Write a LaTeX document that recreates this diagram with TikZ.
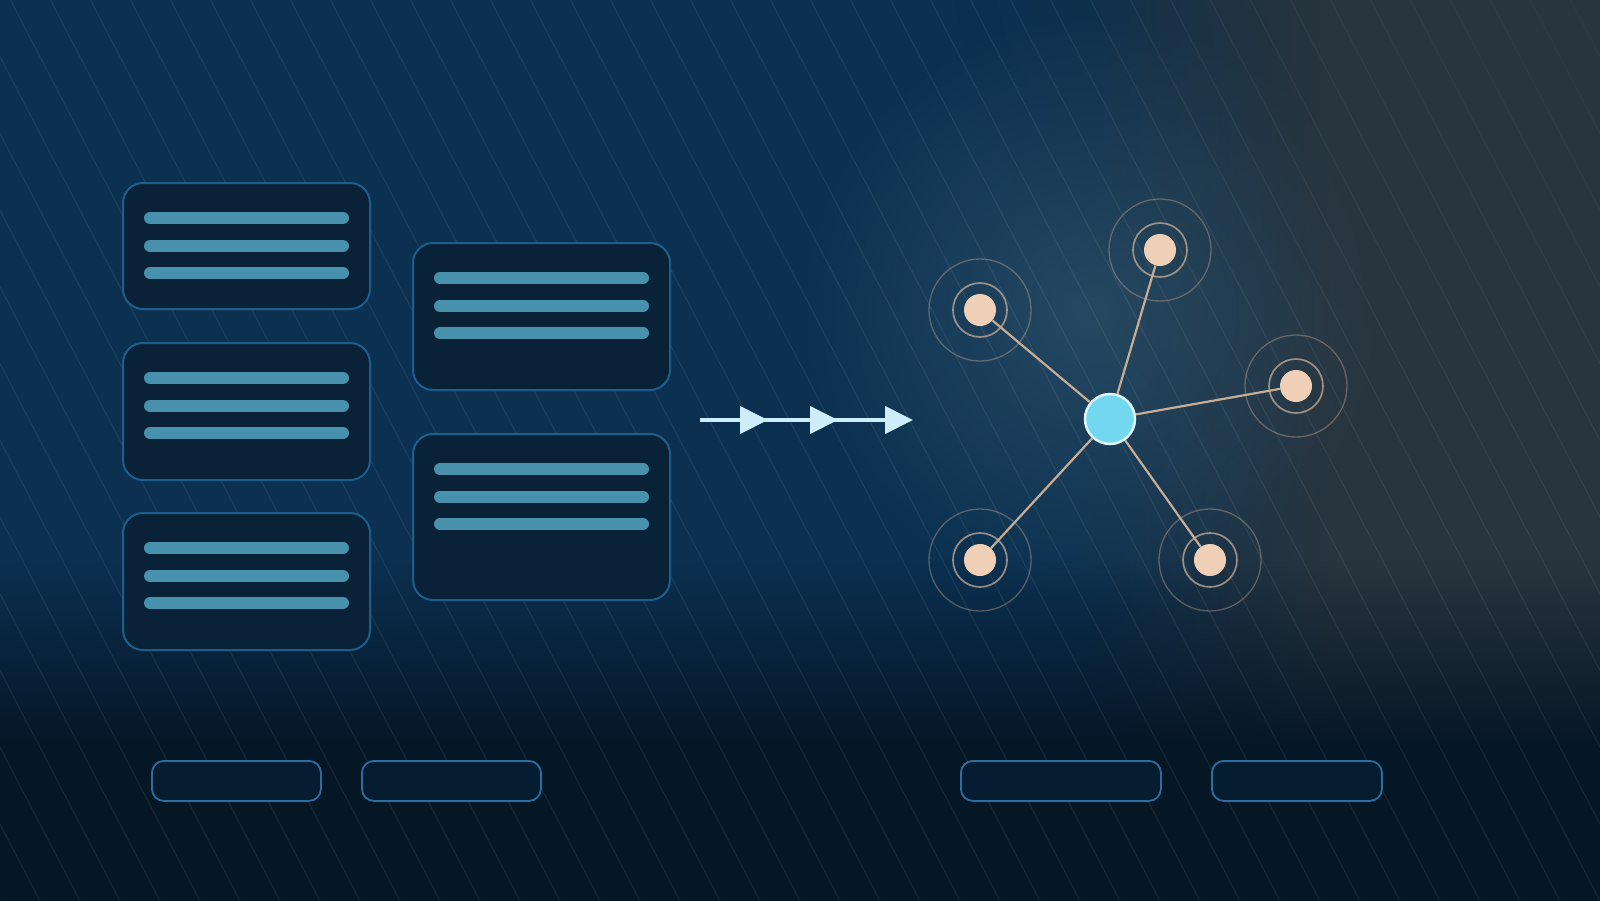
\documentclass[tikz,border=0pt]{standalone}
\usepackage{tikz}
\usetikzlibrary{arrows.meta,fadings}
\definecolor{fondo}{HTML}{0B3050}
\definecolor{pizarra}{HTML}{29353E}
\definecolor{brillo}{HTML}{2F5269}
\definecolor{oscuro}{HTML}{051625}
\definecolor{tarjetaC}{HTML}{0A2237}
\definecolor{borde}{HTML}{1E5E8C}
\definecolor{barraC}{HTML}{4791AC}
\definecolor{flechaC}{HTML}{CDEEF8}
\definecolor{nucleoC}{HTML}{72D8F0}
\definecolor{nucleoB}{HTML}{DDF6FC}
\definecolor{piel}{HTML}{EFCFB6}
\definecolor{enlaceC}{HTML}{C8AD95}
\definecolor{pildoraC}{HTML}{061C31}
\definecolor{pildoraB}{HTML}{2C6EA2}
\tikzfading[name=haciaderecha, left color=transparent!100, right color=transparent!0]
\tikzfading[name=haciaabajo, top color=transparent!100, bottom color=transparent!0]
\tikzfading[name=halo, inner color=transparent!0, outer color=transparent!100]
\newcommand{\barras}[1]{\foreach \d in {36,64,91}{\draw[barra] ([xshift=28pt,yshift=-\d pt]#1.north west) -- ([xshift=-28pt,yshift=-\d pt]#1.north east);}}
\newcommand{\ondas}[1]{\draw[onda1] (#1) circle[radius=27]; \draw[onda2] (#1) circle[radius=51];}

\begin{document}
\begin{tikzpicture}[x=1pt,y=-1pt,
  tarjeta/.style={draw=borde,line width=2pt,fill=tarjetaC,rounded corners=20pt,inner sep=0pt,anchor=north west},
  barra/.style={line width=12pt,line cap=round,barraC},
  flujo/.style={line width=4pt,flechaC,-{Triangle[length=28pt,width=27pt]}},
  nucleo/.style={circle,fill=nucleoC,draw=nucleoB,line width=2.5pt,minimum size=50pt,inner sep=0pt},
  par/.style={circle,fill=piel,minimum size=32pt,inner sep=0pt},
  onda1/.style={enlaceC,opacity=0.75,line width=1.7pt},
  onda2/.style={enlaceC,opacity=0.4,line width=1.3pt},
  enlace/.style={enlaceC,line width=2.2pt},
  pildora/.style={draw=pildoraB,line width=1.8pt,fill=pildoraC,rounded corners=12pt,inner sep=0pt,minimum height=40pt,anchor=north west},
  raya/.style={white,opacity=0.07,line width=1.2pt}]
  \useasboundingbox (0,0) rectangle (1600,900);

  % fondo
  \begin{scope}
    \clip (0,0) rectangle (1600,900);
    \fill[fondo] (-20,-20) rectangle (1620,920);
    \fill[pizarra,path fading=haciaderecha] (1080,-20) rectangle (1330,920);
    \fill[pizarra] (1329,-20) rectangle (1620,920);
    \fill[brillo,path fading=halo,opacity=0.75] (1090,310) circle[radius=300];
    \fill[oscuro,path fading=haciaabajo] (-20,560) rectangle (1620,750);
    \fill[oscuro] (-20,749) rectangle (1620,920);
    \foreach \x in {-520,-480,...,1600} \draw[raya] (\x,-20) -- ++(490,940);
    \fill[pizarra,path fading=halo,opacity=0.6] (1720,-150) circle[radius=780];
    \fill[pizarra,path fading=halo,opacity=0.7] (1700,-150) circle[radius=580];
  \end{scope}

  % tarjetas
  \node[tarjeta,minimum width=247pt,minimum height=126pt] (t1) at (122,182) {};
  \node[tarjeta,minimum width=247pt,minimum height=137pt] (t2) at (122,342) {};
  \node[tarjeta,minimum width=247pt,minimum height=137pt] (t3) at (122,512) {};
  \node[tarjeta,minimum width=257pt,minimum height=147pt] (t4) at (412,242) {};
  \node[tarjeta,minimum width=257pt,minimum height=166pt] (t5) at (412,433) {};
  \barras{t1} \barras{t2} \barras{t3} \barras{t4} \barras{t5}

  % flecha
  \coordinate (f0) at (700,420);
  \coordinate (f1) at (768,420);
  \coordinate (f2) at (838,420);
  \coordinate (f3) at (913,420);
  \draw[flujo] (f0) -- (f3);
  \draw[flujo] (f0) -- (f2);
  \draw[flujo] (f0) -- (f1);

  % red
  \node[nucleo] (hub) at (1110,419) {};
  \node[par] (p1) at (980,310) {};
  \node[par] (p2) at (1160,250) {};
  \node[par] (p3) at (1296,386) {};
  \node[par] (p4) at (980,560) {};
  \node[par] (p5) at (1210,560) {};
  \foreach \p in {p1,p2,p3,p4,p5} {\draw[enlace] (hub) -- (\p); \ondas{\p}}

  % pildoras
  \node[pildora,minimum width=169pt] (b1) at (151,760) {};
  \node[pildora,minimum width=179pt] (b2) at (361,760) {};
  \node[pildora,minimum width=200pt] (b3) at (960,760) {};
  \node[pildora,minimum width=170pt] (b4) at (1211,760) {};
\end{tikzpicture}
\end{document}
